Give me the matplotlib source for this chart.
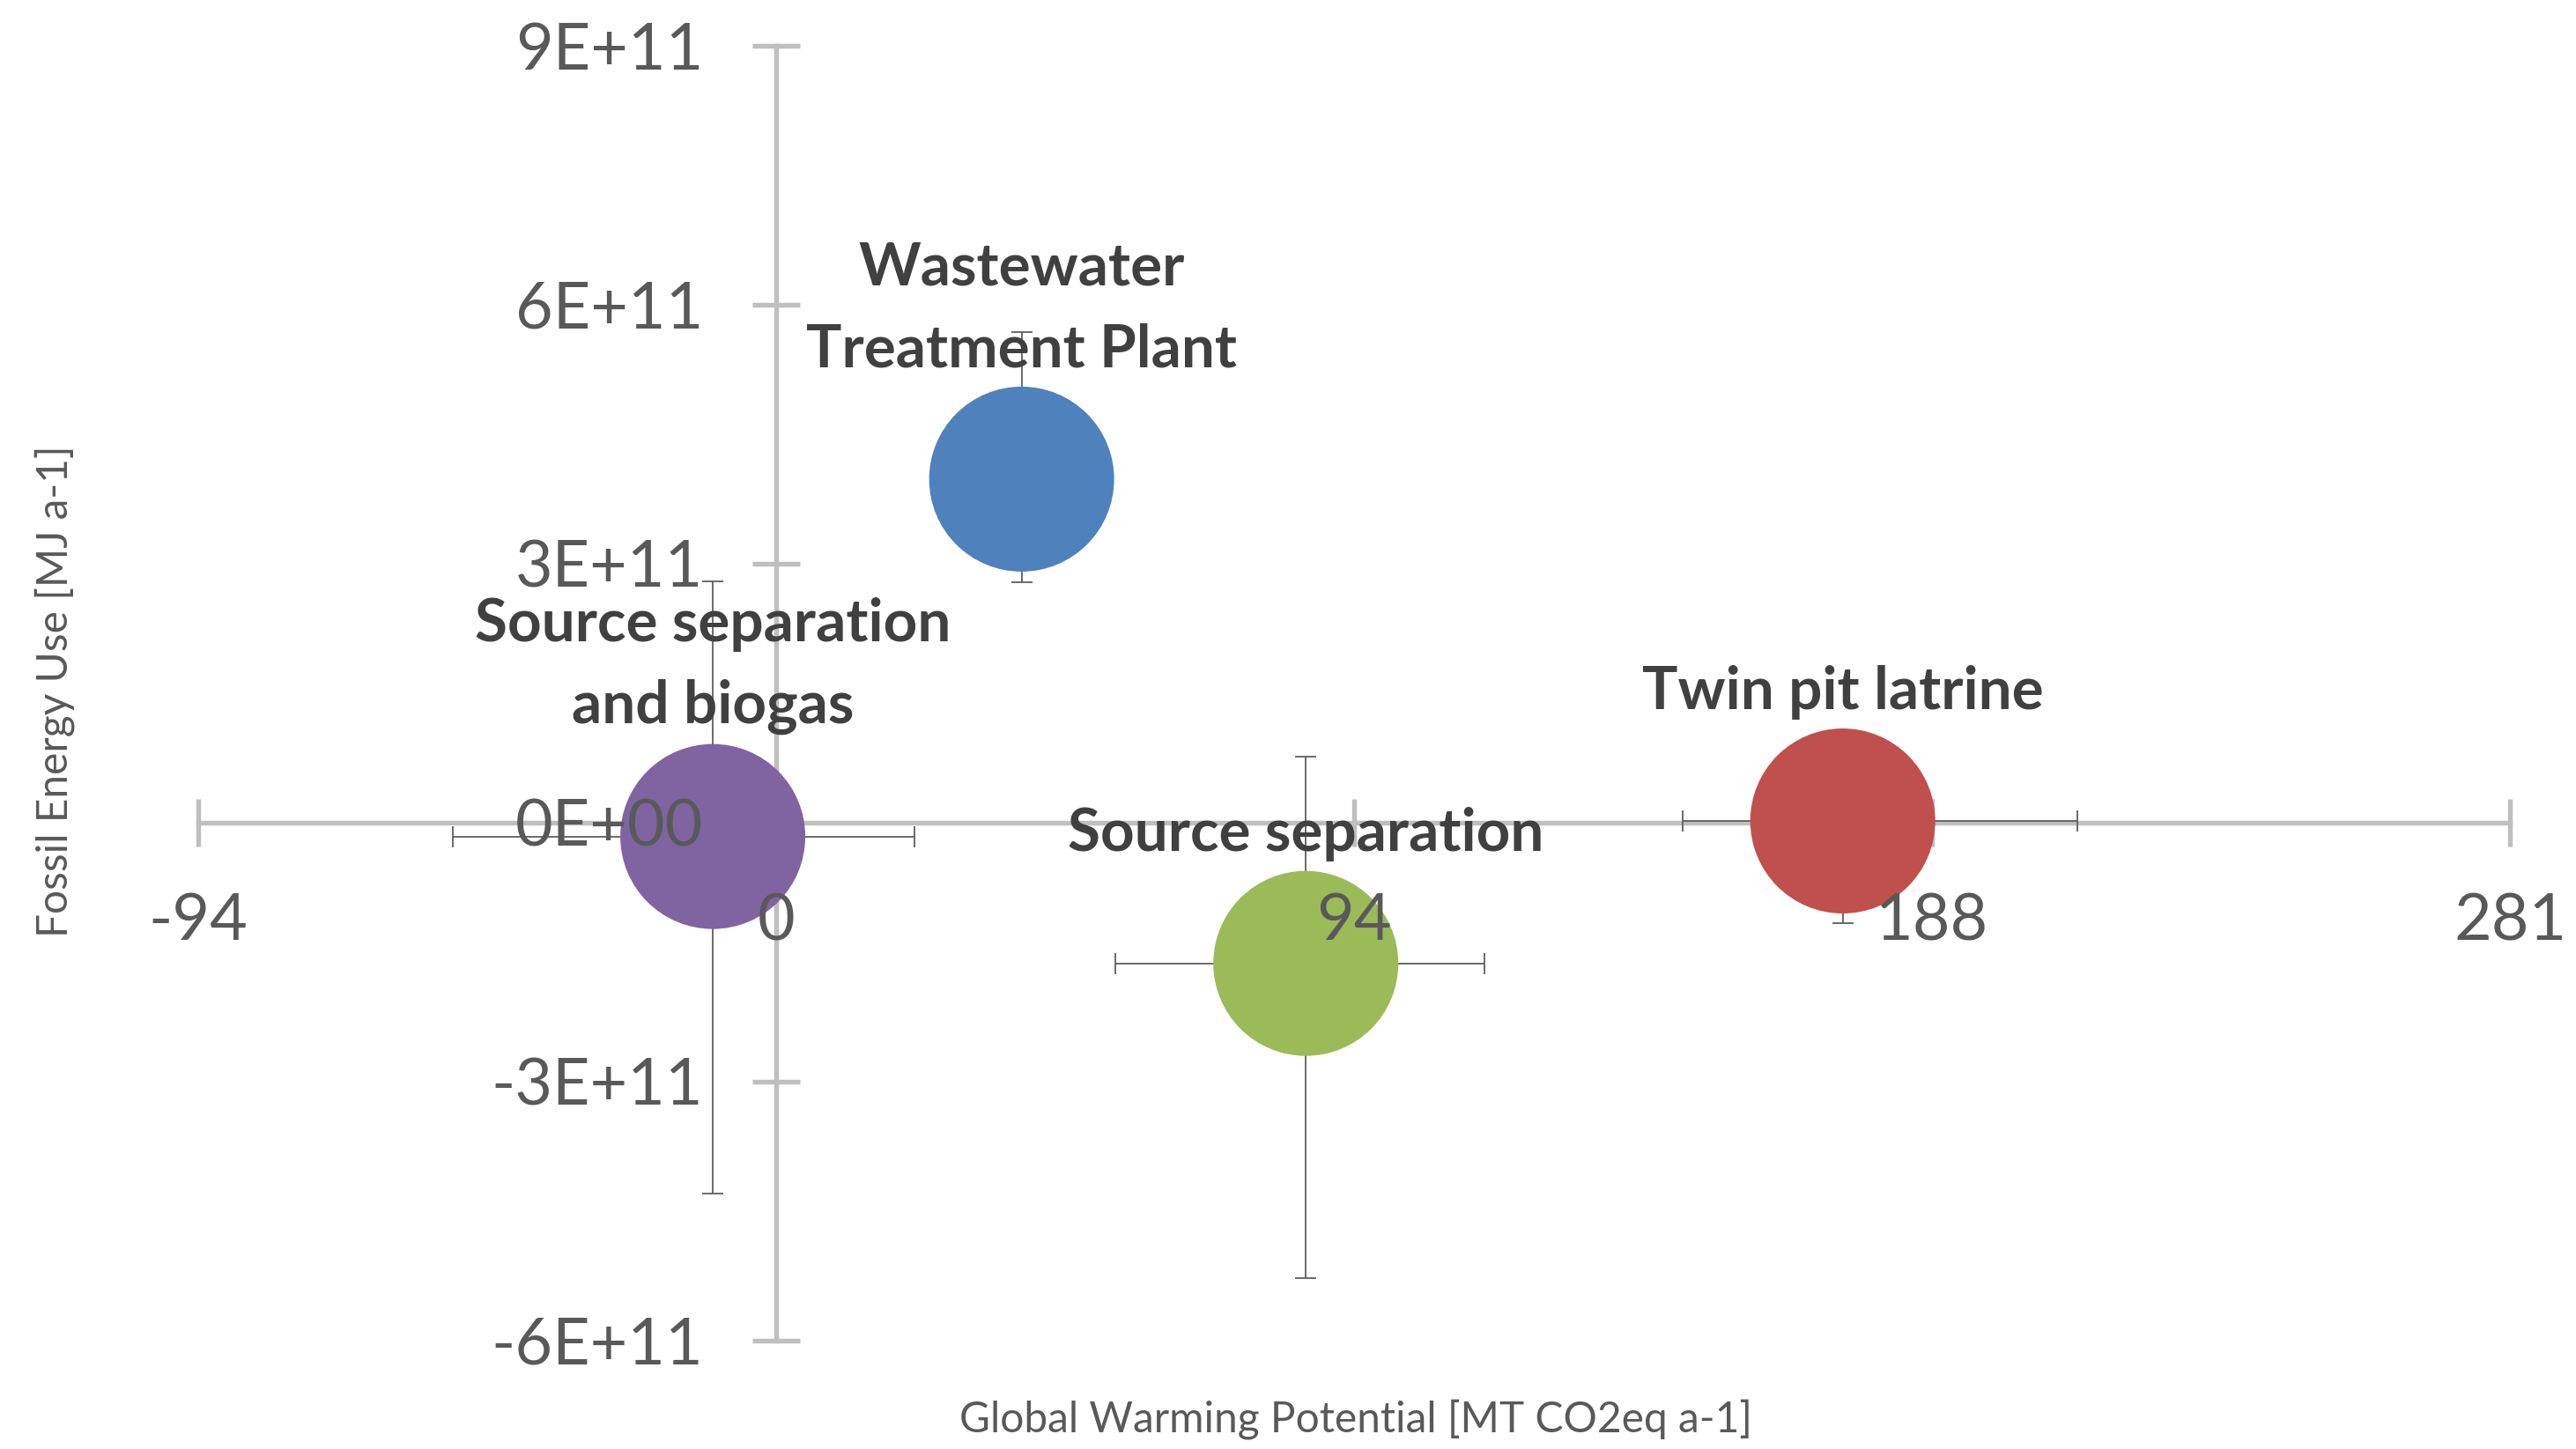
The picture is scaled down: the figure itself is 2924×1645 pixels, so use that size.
import matplotlib.pyplot as plt

plt.rcParams['font.family'] = ['Lato', 'DejaVu Sans']

# data
systems = ['Wastewater\nTreatment Plant', 'Twin pit latrine',
           'Source separation', 'Source separation\nand biogas']
gwp = [39.8, 173.0, 85.9, -10.3]
fossil = [3.98e11, 0.02e11, -1.63e11, -0.16e11]
gwp_err_lo = [0.0, 26.0, 30.9, 42.2]
gwp_err_hi = [0.0, 38.1, 29.0, 32.7]
fossil_err_lo = [1.19e11, 1.18e11, 3.65e11, 4.14e11]
fossil_err_hi = [1.70e11, 0.6e11, 2.40e11, 2.96e11]
bubble_size = [1, 1, 1, 1]
colors = ['#4F81BD', '#C0504D', '#9BBB59', '#8064A2']

x_ticks = [-93.75, 0, 93.75, 187.5, 281.25]
x_tick_labels = ['-94', '0', '94', '188', '281']
y_ticks = [-6e11, -3e11, 0, 3e11, 6e11, 9e11]
y_tick_labels = ['-6E+11', '-3E+11', '0E+00', '3E+11', '6E+11', '9E+11']

axis_grey = '#BFBFBF'
text_grey = '#595959'

fig = plt.figure(figsize=(29.24, 16.45), dpi=100)
rect = [0.0770, 0.0748, 0.8974, 0.8936]

# main axes: axis lines, tick marks, error bars, bubbles
ax = fig.add_axes(rect)
ax.set_xlim(x_ticks[0], x_ticks[-1])
ax.set_ylim(y_ticks[0], y_ticks[-1])
for s in ['top', 'right']:
    ax.spines[s].set_visible(False)
for s in ['left', 'bottom']:
    ax.spines[s].set_position(('data', 0))
    ax.spines[s].set_color(axis_grey)
    ax.spines[s].set_linewidth(3.9)
    ax.spines[s].set_zorder(0.5)
ax.set_axisbelow(True)
ax.tick_params(direction='inout', length=38.9, width=3.9, color=axis_grey,
               labelbottom=False, labelleft=False)

ax.errorbar(gwp, fossil, xerr=[gwp_err_lo, gwp_err_hi],
            yerr=[fossil_err_lo, fossil_err_hi], fmt='none',
            ecolor='#5F5F5F', elinewidth=1.3, capsize=8.6, capthick=1.3, zorder=1)
ax.scatter(gwp, fossil, s=[b * 22860 for b in bubble_size], c=colors,
           linewidths=0, zorder=2)

for name, x, y in zip(systems, gwp, fossil):
    ax.annotate(name, (x, y), xytext=(0, 83), textcoords='offset points',
                ha='center', va='bottom', multialignment='center',
                fontsize=48.5, fontweight='bold', color='#404040',
                linespacing=1.62, zorder=5)

# overlay axes only for tick labels, so they sit on top of the bubbles
ax2 = fig.add_axes(rect, sharex=ax, sharey=ax)
ax2.patch.set_visible(False)
for s in ax2.spines.values():
    s.set_visible(False)
ax2.spines['left'].set_position(('data', 0))
ax2.spines['bottom'].set_position(('data', 0))
ax2.set_xticks(x_ticks, x_tick_labels)
ax2.set_yticks(y_ticks, y_tick_labels)
ax2.tick_params(length=0, labelsize=53, labelcolor=text_grey)
ax2.tick_params(axis='y', pad=59.8)
ax2.tick_params(axis='x', pad=57)

fig.text(0.5263, 0.0207, 'Global Warming Potential [MT CO2eq a-1]',
         ha='center', va='center', fontsize=34.5, color=text_grey)
fig.text(0.0212, 0.5228, 'Fossil Energy Use [MJ a-1]', rotation=90,
         ha='center', va='center', fontsize=34.5, color=text_grey)

fig.savefig('out.png', dpi=100)
